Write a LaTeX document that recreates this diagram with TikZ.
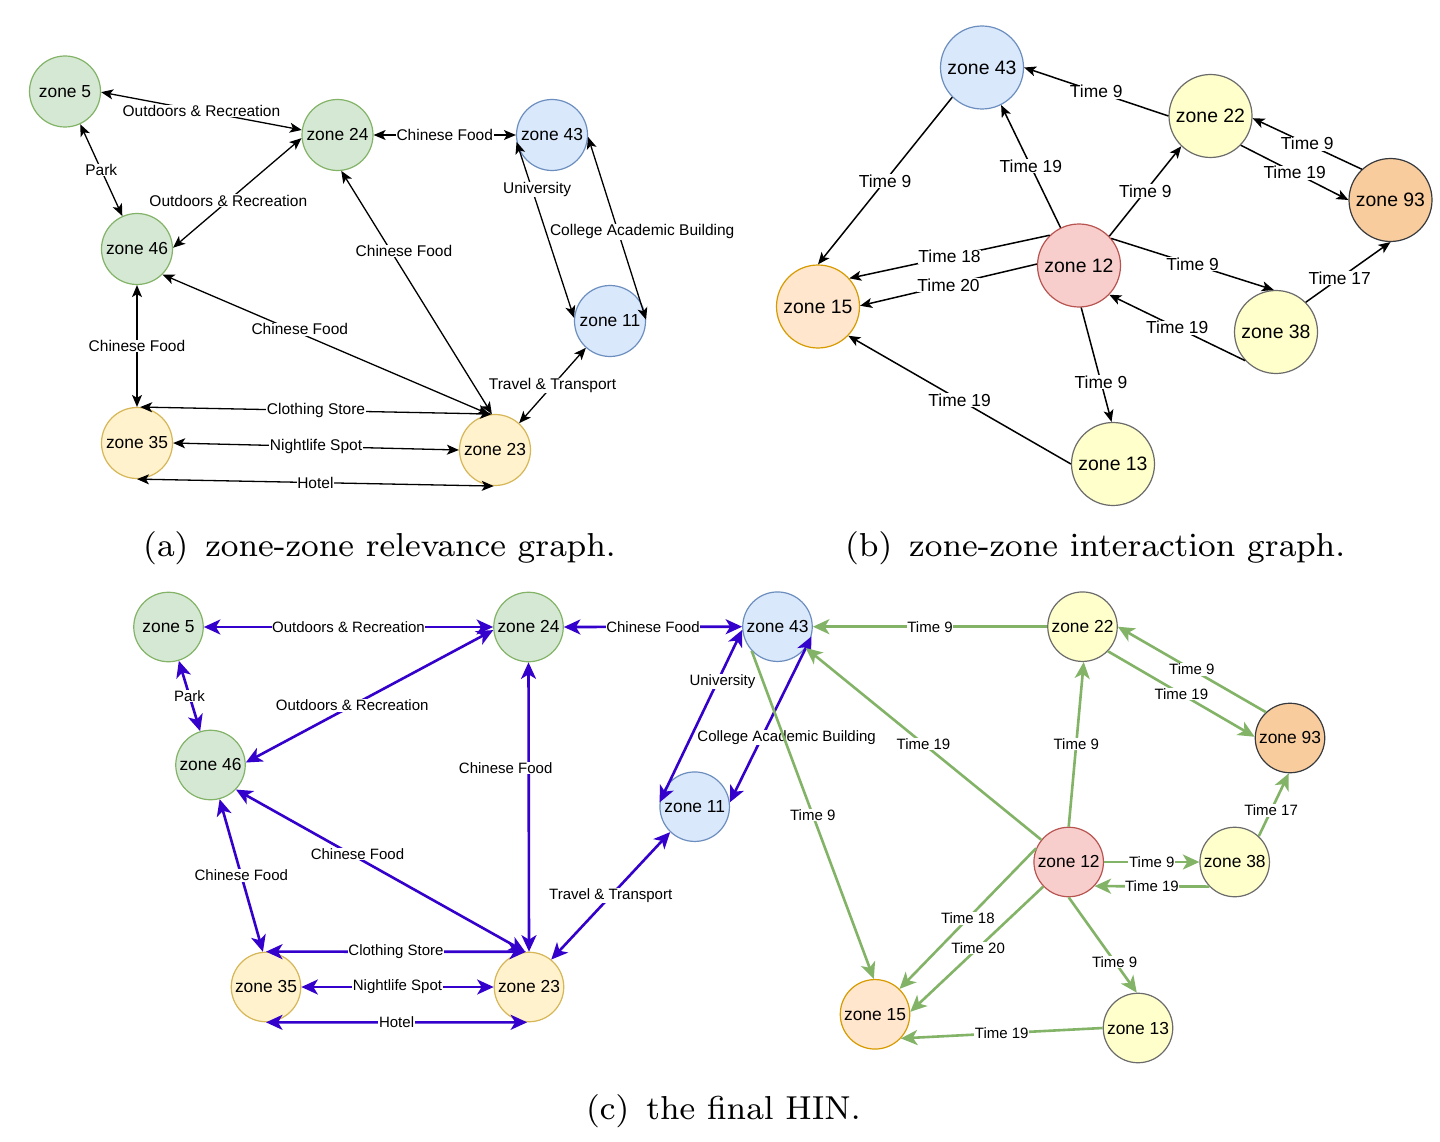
\documentclass[tikz,border=0pt]{standalone}
\usepackage{fontspec}
\setmainfont{Liberation Sans}
\usetikzlibrary{arrows.meta}
\font\capfnt=cmr8 at 33.2pt
\definecolor{gfill}{HTML}{D5E8D4}\definecolor{gdraw}{HTML}{82B366}
\definecolor{bfill}{HTML}{DAE8FC}\definecolor{bdraw}{HTML}{6C8EBF}
\definecolor{yfill}{HTML}{FFF2CC}\definecolor{ydraw}{HTML}{D6B656}
\definecolor{lyfill}{HTML}{FFFFCC}\definecolor{lydraw}{HTML}{6B6B6B}
\definecolor{ofill}{HTML}{F9CC9D}\definecolor{odraw}{HTML}{36393D}
\definecolor{pfill}{HTML}{FFE6CC}\definecolor{pdraw}{HTML}{D79B00}
\definecolor{rfill}{HTML}{F8CECC}\definecolor{rdraw}{HTML}{B85450}
\definecolor{bedge}{HTML}{3300CC}\definecolor{gedge}{HTML}{82B366}
\tikzset{
  tipab/.tip={Stealth[length=12pt,width=10pt,inset=3pt]},
  tipc/.tip={Stealth[length=16.5pt,width=15pt,inset=4.5pt]},
  nd/.style={circle,draw,line width=1.2pt,inner sep=0pt,text=black},
  ndA/.style={nd,minimum size=71pt,font=\fontsize{17.4}{20}\selectfont},
  ndB/.style={nd,minimum size=83pt,font=\fontsize{19.4}{22}\selectfont},
  ndC/.style={nd,minimum size=69.5pt,font=\fontsize{17.4}{20}\selectfont},
  cgreen/.style={fill=gfill,draw=gdraw},
  cblue/.style={fill=bfill,draw=bdraw},
  cyel/.style={fill=yfill,draw=ydraw},
  clyel/.style={fill=lyfill,draw=lydraw},
  corange/.style={fill=ofill,draw=odraw},
  cpeach/.style={fill=pfill,draw=pdraw},
  cred/.style={fill=rfill,draw=rdraw},
  lbl/.style={fill=white,inner sep=0.6pt,text=black},
  lblA/.style={lbl,font=\fontsize{15.5}{18}\selectfont},
  lblB/.style={lbl,font=\fontsize{17.4}{20}\selectfont},
  lblC/.style={lbl,font=\fontsize{15}{18}\selectfont},
  eA/.style={draw=black,line width=1.3pt,tipab-tipab},
  eB/.style={draw=black,line width=1.5pt,-tipab},
  eC/.style={draw=bedge,line width=2.6pt,tipc-tipc},
  eG/.style={draw=gedge,line width=2.6pt,-tipc},
  captext/.style={anchor=base west,inner sep=0pt,font=\capfnt}
}
\begin{document}
\begin{tikzpicture}[x=1pt,y=-1pt]
\useasboundingbox[fill=white] (0,0) rectangle (1440,1142);

% ---------- (a) ----------
\node[ndA,cgreen] (z5a)  at (65,91.5) {zone 5};
\node[ndA,cgreen] (z24a) at (337.5,135) {zone 24};
\node[ndA,cblue]  (z43a) at (552,135) {zone 43};
\node[ndA,cgreen] (z46a) at (137,249) {zone 46};
\node[ndA,cblue]  (z11a) at (610,321) {zone 11};
\node[ndA,cyel]   (z35a) at (137,443) {zone 35};
\node[ndA,cyel]   (z23a) at (495,450) {zone 23};

\draw[eA] (z5a.-1) -- node[lblA]{Outdoors \& Recreation} (z24a.172);
\draw[eA] (z5a.-65) -- node[lblA]{Park} (z46a.114);
\draw[eA] (z24a.185) -- node[lblA,pos=.57]{Outdoors \& Recreation} (z46a.2);
\draw[eA] (z24a.east) -- node[lblA]{Chinese Food} (z43a.west);
\draw[eA] (z43a.191) -- node[lblA,pos=.27,xshift=5pt]{University} (z11a.175);
\draw[eA] (z43a.-3) -- node[lblA,pos=.52,xshift=24pt]{College Academic Building} (z11a.2);
\draw[eA] (z11a.228) -- node[lblA]{Travel \& Transport} (z23a.48);
\draw[eA] (z24a.-84) -- node[lblA,pos=.33,xshift=13pt]{Chinese Food} (z23a.95);
\draw[eA] (z46a.-45) -- node[lblA,pos=.42,yshift=4pt]{Chinese Food} (z23a.99);
\draw[eA] (z46a.south) -- node[lblA]{Chinese Food} (z35a.north);
\draw[eA] (z35a.85) -- node[lblA]{Clothing Store} (z23a.95);
\draw[eA] (z35a.east) -- node[lblA]{Nightlife Spot} (z23a.west);
\draw[eA] (z35a.south) -- node[lblA]{Hotel} (z23a.-92);

% ---------- (b) ----------
\node[ndB,cblue]   (z43b) at (982,67.5) {zone 43};
\node[ndB,clyel]   (z22b) at (1210.5,116) {zone 22};
\node[ndB,corange] (z93b) at (1390.5,200) {zone 93};
\node[ndB,cred]    (z12b) at (1079,265.5) {zone 12};
\node[ndB,cpeach]  (z15b) at (818,306.5) {zone 15};
\node[ndB,clyel]   (z38b) at (1276,332) {zone 38};
\node[ndB,clyel]   (z13b) at (1113,464) {zone 13};

\draw[eB] (z22b.180) -- node[lblB]{Time 9} (z43b.0);
\draw[eB] (z43b.225) -- node[lblB]{Time 9} (z15b.90);
\draw[eB] (z12b.116) -- node[lblB]{Time 19} (z43b.-63);
\draw[eB] (z12b.44) -- node[lblB]{Time 9} (z22b.226);
\draw[eB] (z93b.133) -- node[lblB]{Time 9} (z22b.-3);
\draw[eB] (z22b.-44) -- node[lblB]{Time 19} (z93b.180);
\draw[eB] (z12b.134) -- node[lblB]{Time 18} (z15b.42);
\draw[eB] (z12b.178) -- node[lblB]{Time 20} (z15b.1);
\draw[eB] (z12b.40) -- node[lblB]{Time 9} (z38b.93);
\draw[eB] (z38b.223) -- node[lblB]{Time 19} (z12b.-44);
\draw[eB] (z38b.45) -- node[lblB,pos=.4]{Time 17} (z93b.-90);
\draw[eB] (z12b.-87) -- node[lblB,pos=.65]{Time 9} (z13b.92);
\draw[eB] (z13b.180) -- node[lblB]{Time 19} (z15b.-44);

% ---------- (c) ----------
\node[ndC,cgreen]  (z5c)  at (168.5,627) {zone 5};
\node[ndC,cgreen]  (z24c) at (528.5,627) {zone 24};
\node[ndC,cgreen]  (z46c) at (210.5,765) {zone 46};
\node[ndC,cyel]    (z35c) at (266,987) {zone 35};
\node[ndC,cyel]    (z23c) at (529,987) {zone 23};
\node[ndC,cblue]   (z43c) at (777.5,626.7) {zone 43};
\node[ndC,cblue]   (z11c) at (694.7,806.7) {zone 11};
\node[ndC,clyel]   (z22c) at (1082.5,626.7) {zone 22};
\node[ndC,corange] (z93c) at (1290,738) {zone 93};
\node[ndC,cred]    (z12c) at (1068.7,862) {zone 12};
\node[ndC,clyel]   (z38c) at (1234.7,862) {zone 38};
\node[ndC,cpeach]  (z15c) at (875,1014.3) {zone 15};
\node[ndC,clyel]   (z13c) at (1138,1028) {zone 13};

\draw[eC] (z5c.east) -- node[lblC]{Outdoors \& Recreation} (z24c.west);
\draw[eC] (z5c.-73) -- node[lblC]{Park} (z46c.107);
\draw[eC] (z24c.185) -- node[lblC,pos=.57]{Outdoors \& Recreation} (z46c.4);
\draw[eC] (z24c.east) -- node[lblC]{Chinese Food} (z43c.west);
\draw[eC] (z24c.south) -- node[lblC,pos=.365,xshift=-23pt]{Chinese Food} (z23c.north);
\draw[eC] (z46c.-44) -- node[lblC,pos=.42,yshift=4pt]{Chinese Food} (z23c.96);
\draw[eC] (z46c.-75) -- node[lblC]{Chinese Food} (z35c.95);
\draw[eC] (z35c.north) -- node[lblC]{Clothing Store} (z23c.95);
\draw[eC] (z35c.east) -- node[lblC]{Nightlife Spot} (z23c.west);
\draw[eC] (z35c.south) -- node[lblC]{Hotel} (z23c.-93);
\draw[eC] (z43c.185) -- node[lblC,pos=.3,xshift=5pt]{University} (z11c.173);
\draw[eC] (z43c.-16) -- node[lblC,pos=.61,xshift=25pt]{College Academic Building} (z11c.7);
\draw[eC] (z11c.226) -- node[lblC]{Travel \& Transport} (z23c.51);

\draw[eG] (z22c.180) -- node[lblC]{Time 9} (z43c.0);
\draw[eG] (z12c.141) -- node[lblC]{Time 19} (z43c.-37);
\draw[eG] (z43c.223) -- node[lblC]{Time 9} (z15c.92);
\draw[eG] (z12c.90) -- node[lblC]{Time 9} (z22c.-88);
\draw[eG] (z93c.133) -- node[lblC]{Time 9} (z22c.0);
\draw[eG] (z22c.-44) -- node[lblC]{Time 19} (z93c.178);
\draw[eG] (z12c.0) -- node[lblC]{Time 9} (z38c.180);
\draw[eG] (z38c.224) -- node[lblC]{Time 19} (z12c.-43);
\draw[eG] (z38c.47) -- node[lblC,pos=.41]{Time 17} (z93c.-92);
\draw[eG] (z12c.157) -- node[lblC]{Time 18} (z15c.46);
\draw[eG] (z12c.224) -- node[lblC,pos=.49]{Time 20} (z15c.4);
\draw[eG] (z12c.-90) -- node[lblC,pos=.675]{Time 9} (z13c.92);
\draw[eG] (z13c.180) -- node[lblC]{Time 19} (z15c.-43);

% ---------- captions ----------
\node[captext] (capa) at (143,556) {(a)\hskip 17pt zone-zone relevance graph.};
\node[captext] (capb) at (845,556) {(b)\hskip 17pt zone-zone interaction graph.};
\node[captext] (capc) at (586,1119) {(c)\hskip 17pt the final HIN.};
\end{tikzpicture}
\end{document}
